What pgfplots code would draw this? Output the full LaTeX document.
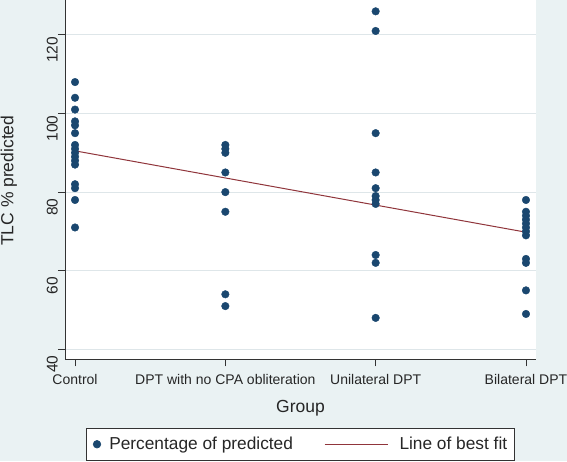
\documentclass[border=0pt]{standalone}
\usepackage{pgfplots}
\pgfplotsset{compat=1.18}
\usepackage{fontspec}
\setmainfont{Liberation Sans}
\definecolor{bgcol}{RGB}{234,242,243}
\definecolor{navy}{RGB}{26,71,111}
\definecolor{maroon}{RGB}{144,53,59}
\definecolor{gridc}{RGB}{222,230,233}
\begin{document}
\begin{tikzpicture}[x=1pt,y=1pt]
\useasboundingbox (0,0) rectangle (567,461);
\fill[bgcol] (0,0) rectangle (567,461);
\begin{axis}[
  at={(65pt,101.7pt)}, anchor=south west,
  scale only axis, width=471pt, height=359.3pt,
  xmin=-0.0667, xmax=3.0667, ymin=37.46, ymax=128.88,
  axis x line*=bottom, axis y line*=left,
  axis line style={black!80, line width=0.8pt, -},
  axis background/.style={fill=white},
  xtick={0,1,2,3},
  xticklabels={Control,DPT with no CPA obliteration,Unilateral DPT,Bilateral DPT},
  ytick={40,60,80,100,120},
  ymajorgrids, grid style={gridc, line width=0.8pt},
  tick align=outside, major tick length=7pt,
  tick style={black!80, line width=0.8pt},
  /pgf/number format/assume math mode=true,
  xticklabel style={font=\fontsize{14}{16}\selectfont, text=black!85, anchor=north, inner sep=0pt, yshift=-8pt},
  yticklabel style={font=\fontsize{15.5}{17}\selectfont, text=black!85, rotate=90, anchor=south, inner sep=0pt, xshift=-15pt},
  xlabel={Group}, ylabel={TLC \% predicted},
  label style={font=\fontsize{17.5}{20}\selectfont, text=black!85},
  xlabel style={at={(axis description cs:0.5,-0.1355)}, anchor=center},
  ylabel style={at={(axis description cs:-0.119,0.497)}, anchor=center, rotate=0},
  legend columns=2,
  legend style={at={(axis description cs:0.0446,-0.191)}, anchor=north west,
    draw=black!80, line width=0.6pt, fill=white, inner xsep=5pt, inner ysep=7pt,
    font=\fontsize{17.3}{20}\selectfont, text=black!85,
    /tikz/every odd column/.style={column sep=0pt},
    /tikz/every even column/.style={column sep=29pt}},
  legend cell align=left,
  clip=false,
]
\addplot[only marks, mark=*, mark size=3.8pt, color=navy,
  legend image code/.code={\path[draw=none,fill=none] (0pt,0pt) -- (16pt,0pt); \fill[navy] (5.7pt,0pt) circle (3.8pt);}]
  coordinates {
  (0,108) (0,104) (0,101) (0,98) (0,97) (0,95) (0,92) (0,91) (0,90) (0,89) (0,88) (0,87) (0,82) (0,81) (0,78) (0,71)
  (1,92) (1,91) (1,90) (1,85) (1,80) (1,75) (1,54) (1,51)
  (2,126) (2,121) (2,95) (2,85) (2,81) (2,79) (2,78) (2,77) (2,64) (2,62) (2,48)
  (3,78) (3,75) (3,74) (3,73) (3,72) (3,71) (3,70) (3,69) (3,63) (3,62) (3,55) (3,49)
  };
\addlegendentry{Percentage of predicted}
\addplot[color=maroon, line width=1pt,
  legend image code/.code={\path[draw=none,fill=none] (0pt,0pt) -- (73pt,0pt); \draw[maroon, line width=1pt] (0pt,0pt) -- (63pt,0pt);}]
  coordinates {(0,90.5) (3,69.8)};
\addlegendentry{Line of best fit}
\end{axis}
\end{tikzpicture}
\end{document}
